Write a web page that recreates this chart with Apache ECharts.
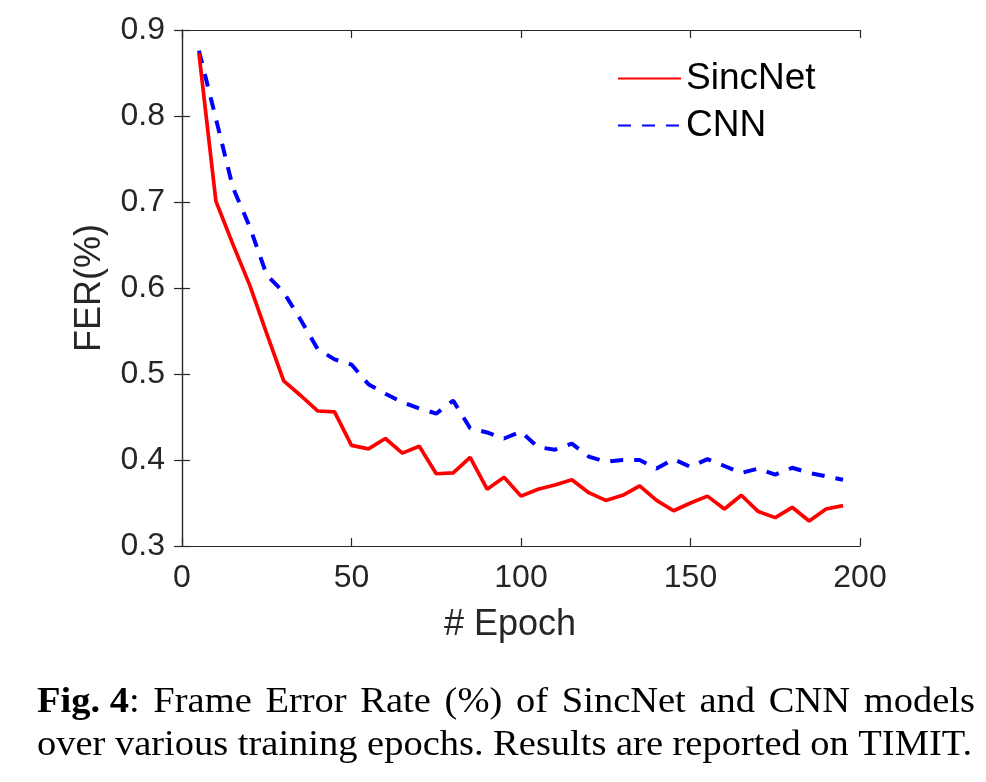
<!DOCTYPE html>
<html>
<head>
<meta charset="utf-8">
<script src="https://cdn.jsdelivr.net/npm/echarts@6/dist/echarts.min.js"></script>
<style>
html,body{margin:0;padding:0;background:#fff;}
#c{width:986px;height:782px;}
</style>
</head>
<body>
<div id="c"></div>
<script>
const epochs = [5,10,15,20,25,30,35,40,45,50,55,60,65,70,75,80,85,90,95,100,105,110,115,120,125,130,135,140,145,150,155,160,165,170,175,180,185,190,195];
const sincnet = [0.873,0.701,0.651,0.603,0.547,0.492,0.475,0.457,0.456,0.417,0.413,0.425,0.408,0.416,0.384,0.385,0.403,0.366,0.380,0.358,0.366,0.371,0.377,0.362,0.353,0.359,0.370,0.353,0.341,0.350,0.358,0.343,0.359,0.340,0.333,0.345,0.329,0.343,0.347];
const cnn = [0.876,0.797,0.717,0.671,0.615,0.595,0.563,0.529,0.517,0.511,0.488,0.477,0.467,0.460,0.454,0.469,0.437,0.432,0.425,0.433,0.415,0.412,0.419,0.404,0.398,0.400,0.400,0.390,0.401,0.392,0.401,0.393,0.385,0.390,0.383,0.391,0.385,0.381,0.377];
const xTicks = [0,50,100,150,200];
const yTicks = [0.3,0.4,0.5,0.6,0.7,0.8,0.9];
const captionLabel = "Fig. 4";
const captionLine1 = "Frame Error Rate (%) of SincNet and CNN models";
const captionLine2 = "over various training epochs. Results are reported on TIMIT.";

const chart = echarts.init(document.getElementById('c'), null, {renderer:'canvas'});
const axisColor = '#262626';
const sans = 'Liberation Sans, Arial, Helvetica, sans-serif';
const serif = 'Liberation Serif, Times New Roman, serif';
const capSize = 35;
const capStretch = 1.1;

// justified caption built from word tokens
const mctx = document.createElement('canvas').getContext('2d');
function segWidth(seg){ mctx.font = (seg.bold?'bold ':'') + capSize + 'px ' + serif; return mctx.measureText(seg.t).width * capStretch; }
function tokenWidth(tok){ return tok.reduce((s,g)=>s+segWidth(g),0); }
function justify(tokens, y, x0, x1){
  const widths = tokens.map(tokenWidth);
  const total = widths.reduce((a,b)=>a+b,0);
  const gap = (x1 - x0 - total) / (tokens.length - 1);
  let x = x0; const out = [];
  tokens.forEach((tok,i)=>{
    out.push({type:'text', x:x, y:y, scaleX:capStretch, silent:true, style:{
      text: tok.map(g=>'{'+(g.bold?'b':'r')+'|'+g.t+'}').join(''),
      verticalAlign:'middle',
      rich:{b:{font:'bold '+capSize+'px '+serif, fill:'#000'}, r:{font:capSize+'px '+serif, fill:'#000'}}
    }});
    x += widths[i] + gap;
  });
  return out;
}
const tokens1 = [[{t:captionLabel,bold:true},{t:':',bold:false}]]
  .concat(captionLine1.split(' ').map(w=>[{t:w,bold:false}]));
const tokens2 = captionLine2.split(' ').map(w=>[{t:w,bold:false}]);
const captionGraphics = justify(tokens1, 703, 37, 975).concat(justify(tokens2, 746, 37, 972));

const tickAxisCommon = {
  axisLine:{show:true, lineStyle:{color:axisColor, width:1.2}},
  axisTick:{show:true, inside:true, length:8, lineStyle:{color:axisColor, width:1.2}},
  splitLine:{show:false}
};
chart.setOption({
  animation:false,
  backgroundColor:'#fff',
  grid:{left:182, top:30, right:126, bottom:236},
  legend:{
    left:612, top:55, orient:'vertical', itemWidth:63, itemHeight:14, itemGap:10,
    itemStyle:{opacity:0},
    textStyle:{fontFamily:sans, fontSize:37, color:'#000', lineHeight:37},
    data:[{name:'SincNet'},{name:'CNN'}]
  },
  xAxis:[Object.assign({
    type:'value', min:xTicks[0], max:xTicks[xTicks.length-1], interval:50, position:'bottom',
    name:'# Epoch', nameLocation:'middle', nameGap:61,
    nameTextStyle:{fontFamily:sans, fontSize:36, color:'#262626', padding:[0,22,0,0]},
    axisLabel:{fontFamily:sans, fontSize:32, color:'#262626', margin:16}
  }, tickAxisCommon), Object.assign({
    type:'value', min:xTicks[0], max:xTicks[xTicks.length-1], interval:50, position:'top',
    axisLabel:{show:false}
  }, tickAxisCommon)],
  yAxis:[Object.assign({
    type:'value', min:yTicks[0], max:yTicks[yTicks.length-1], interval:0.1, position:'left',
    name:'FER(%)', nameLocation:'middle', nameGap:74, nameRotate:90,
    nameTextStyle:{fontFamily:sans, fontSize:36, color:'#262626'},
    axisLabel:{fontFamily:sans, fontSize:32, color:'#262626', margin:17, formatter:v=>v.toFixed(1)}
  }, tickAxisCommon), Object.assign({
    type:'value', min:yTicks[0], max:yTicks[yTicks.length-1], interval:0.1, position:'right',
    axisLabel:{show:false}
  }, tickAxisCommon)],
  series:[
    {name:'SincNet', type:'line', data:epochs.map((e,i)=>[e,sincnet[i]]), symbol:'none', showSymbol:false,
     lineStyle:{color:'#ff0000', width:3.7}, itemStyle:{color:'#ff0000'}, z:3},
    {name:'CNN', type:'line', data:epochs.map((e,i)=>[e,cnn[i]]), symbol:'none', showSymbol:false,
     lineStyle:{color:'#0000ff', width:4, type:[13,11]}, itemStyle:{color:'#0000ff'}, z:2}
  ],
  graphic:captionGraphics
});
</script>
</body>
</html>
